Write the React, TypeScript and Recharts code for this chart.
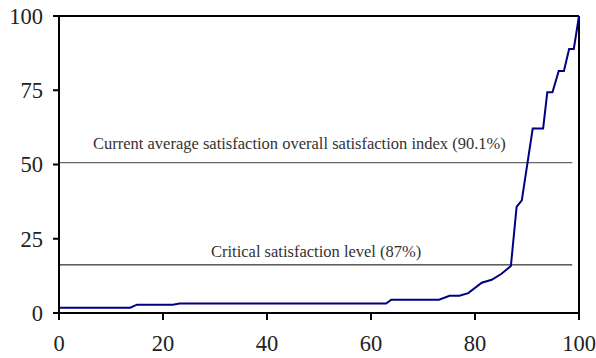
import { LineChart, Line, XAxis, YAxis, ReferenceLine } from 'recharts'

// cumulative curve
const xs = [0, 13.7, 15, 21.9, 23.2, 62.9, 63.9, 73.1, 75.1, 77, 78.7, 81.3, 83.2, 85.1, 86.9, 88, 89, 91.1, 93.1, 93.9, 94.9, 96.1, 97.1, 98.1, 99, 100]
const ys = [1.8, 1.8, 2.8, 2.8, 3.2, 3.2, 4.5, 4.5, 5.8, 5.8, 6.7, 10.2, 11.2, 13.2, 15.8, 35.7, 37.9, 62.1, 62.1, 74.3, 74.3, 81.5, 81.5, 88.9, 88.9, 100]

const xTicks = [0, 20, 40, 60, 80, 100]
const yTicks = [0, 25, 50, 75, 100]

const avgLevel = 50.6
const criticalLevel = 16.2
const avgLabel = 'Current average satisfaction overall satisfaction index (90.1%)'
const criticalLabel = 'Critical satisfaction level (87%)'

const data = xs.map((x, i) => ({ x, y: ys[i] }))

const FONT = 'Liberation Serif'

function lineLabel(text: string, dx: number, dy: number) {
  return (props: any) => {
    const vb = props.viewBox || {}
    return (
      <text x={(vb.x ?? 0) + dx} y={(vb.y ?? 0) - dy} fontFamily={FONT} fontSize={16.5} fill="#333">
        {text}
      </text>
    )
  }
}

export default function App() {
  return (
    <div style={{ position: 'absolute', left: 0, top: 0 }}>
      <LineChart width={596} height={358} data={data} margin={{ top: 16, right: 17, left: 0, bottom: 0 }}>
        <XAxis
          dataKey="x" type="number" domain={[0, 100]} ticks={xTicks} height={45}
          axisLine={{ stroke: '#000', strokeWidth: 2 }} tickLine={{ stroke: '#000', strokeWidth: 2 }}
          tickSize={7} tickMargin={15}
          tick={{ fontFamily: FONT, fontSize: 22.5, fill: '#222' }}
        />
        <YAxis
          type="number" domain={[0, 100]} ticks={yTicks} width={59}
          axisLine={{ stroke: '#000', strokeWidth: 2 }} tickLine={{ stroke: '#000', strokeWidth: 2 }}
          tickSize={6} tickMargin={10}
          tick={{ fontFamily: FONT, fontSize: 22.5, fill: '#222' }}
        />
        <ReferenceLine y={100} stroke="#000" strokeWidth={2} />
        <ReferenceLine x={100} stroke="#000" strokeWidth={2} />
        <ReferenceLine
          segment={[{ x: 0, y: avgLevel }, { x: 98.7, y: avgLevel }]}
          stroke="#666" strokeWidth={1.2}
          label={lineLabel(avgLabel, 34, 14)}
        />
        <ReferenceLine
          segment={[{ x: 0, y: criticalLevel }, { x: 98.7, y: criticalLevel }]}
          stroke="#000" strokeWidth={1}
          label={lineLabel(criticalLabel, 152, 8)}
        />
        <Line type="linear" dataKey="y" stroke="#000080" strokeWidth={2} dot={false} isAnimationActive={false} />
      </LineChart>
    </div>
  )
}
